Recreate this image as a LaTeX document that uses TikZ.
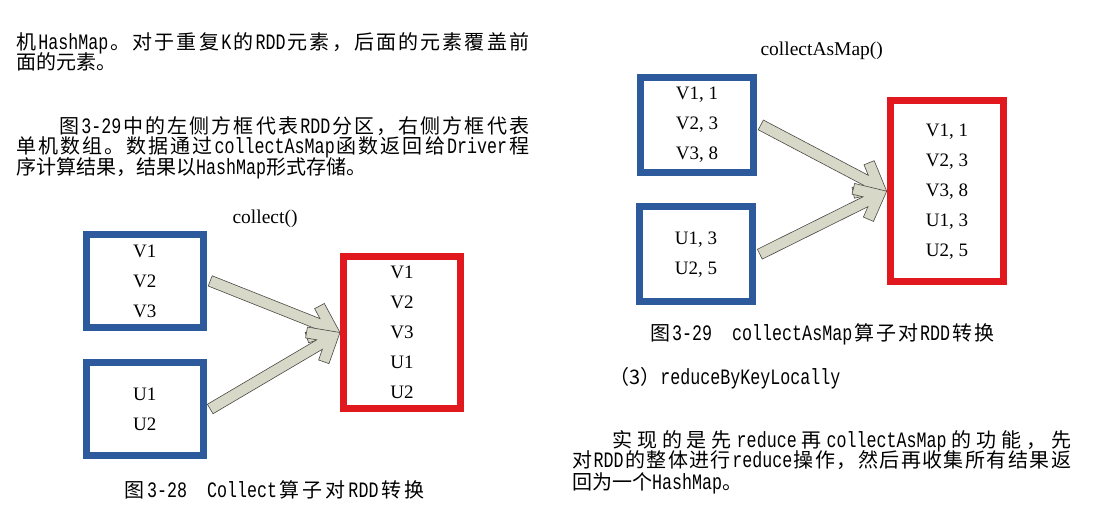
\documentclass[tikz,border=0pt]{standalone}
\usepackage{fontspec}
\setmainfont{Liberation Serif}
\newfontfamily\zhfont{Noto Sans CJK SC}
\newfontfamily\hwfont[FakeStretch=0.758]{Liberation Mono}
\usetikzlibrary{calc}

% stretchable gaps between Chinese characters, for justified lines
\newXeTeXintercharclass\zhclass
\newcount\zhcode
\zhcode="4E00
\loop
  \XeTeXcharclass\zhcode=\zhclass
  \advance\zhcode by 1
\ifnum\zhcode<"9FA6 \repeat
\XeTeXcharclass"3002=\zhclass
\XeTeXcharclass"FF0C=\zhclass
\XeTeXcharclass"FF08=\zhclass
\XeTeXcharclass"FF09=\zhclass
\XeTeXinterchartoks\zhclass\zhclass={\hskip0pt plus 1pt\relax}
\XeTeXinterchartokenstate=1

\definecolor{partblue}{HTML}{2C5A9C}
\definecolor{mapred}{HTML}{E1191F}
\definecolor{arrowfill}{HTML}{D8D8C8}
\definecolor{arrowline}{HTML}{4A4A44}

\newcommand\hw[1]{\hskip0pt plus 1pt{\hwfont\fontsize{22}{20}\selectfont #1}\hskip0pt plus 1pt\relax}
\newcommand\zhline[2]{\makebox[#1][s]{#2}}
% thick arrow with open head, from one anchor to another
\newcommand\fatarrow[2]{%
  \filldraw[fatarrow] let \p1=([xshift=3.5pt]#1), \p2=(#2),
    \n1={atan2(\y2-\y1,\x2-\x1)}, \n2={veclen(\x2-\x1,\y2-\y1)} in
    [shift={(\p2)}, rotate=\n1]
    (0,0) -- (-25.3,21.2) -- (-32.4,12.8) -- (-23.7,5.5) -- (-\n2,5.5)
    -- (-\n2,-5.5) -- (-23.7,-5.5) -- (-32.4,-12.8) -- (-25.3,-21.2) -- cycle;}

\tikzset{
  bodytext/.style={anchor=base west, inner sep=0pt, font=\zhfont\fontsize{20}{20}\selectfont},
  fnlabel/.style={anchor=base, inner sep=0pt, font=\fontsize{19.5}{20}\selectfont},
  partbox/.style={draw=partblue, line width=7pt, inner sep=0pt, align=center, font=\fontsize{19}{30}\selectfont},
  mapbox/.style={partbox, draw=mapred},
  fatarrow/.style={fill=arrowfill, draw=arrowline, line width=0.6pt, line join=miter}
}

\begin{document}
\begin{tikzpicture}[x=1pt,y=-1pt]
\useasboundingbox (0,0) rectangle (1102,517);
\fill[white] (0,0) rectangle (1102,517);

% text, left column
\node[bodytext] (p1a) at (16,49.3) {\zhline{513pt}{机\hw{HashMap}。对于重复\hw{K}的\hw{RDD}元素，后面的元素覆盖前}};
\node[bodytext] (p1b) at (16,69.3) {面的元素。};
\node[bodytext] (p2a) at (59,133.6) {\zhline{470pt}{图\hw{3-29}中的左侧方框代表\hw{RDD}分区，右侧方框代表}};
\node[bodytext] (p2b) at (16,153.6) {\zhline{513pt}{单机数组。数据通过\hw{collectAsMap}函数返回给\hw{Driver}程}};
\node[bodytext] (p2c) at (16,174.3) {序计算结果，结果以\hw{HashMap}形式存储。};

% collect()
\node[fnlabel] (f1) at (265,223) {collect()};
\node[partbox, minimum width=117pt, minimum height=93pt] (v1) at (144.7,280.9) {V1\\V2\\V3};
\node[partbox, minimum width=117pt, minimum height=93pt] (u1) at (144.7,409) {U1\\U2};
\node[mapbox, minimum width=117pt, minimum height=152pt] (r1) at (402,332.5) {V1\\V2\\V3\\U1\\U2};
\fatarrow{v1.east}{r1.west}
\fatarrow{u1.east}{r1.west}
\node[bodytext] (c1) at (124,497.6) {\zhline{300pt}{图\hw{3-28\hspace*{20pt}Collect}算子对\hw{RDD}转换}};

% collectAsMap()
\node[fnlabel] (f2) at (821.7,55.6) {collectAsMap()};
\node[partbox, minimum width=113.6pt, minimum height=94.7pt] (v2) at (697,124.9) {V1, 1\\V2, 3\\V3, 8};
\node[partbox, minimum width=113.6pt, minimum height=94.7pt] (u2) at (696,254.2) {U1, 3\\U2, 5};
\node[mapbox, minimum width=113.6pt, minimum height=180.7pt] (r2) at (947,191.2) {V1, 1\\V2, 3\\V3, 8\\U1, 3\\U2, 5};
\fatarrow{v2.east}{r2.west}
\fatarrow{u2.east}{r2.west}
\node[bodytext] (c2) at (650,340.6) {\zhline{344pt}{图\hw{3-29\hspace*{20pt}collectAsMap}算子对\hw{RDD}转换}};

% text, right column
\node[bodytext] (h3) at (609,384.3) {（3）\hw{reduceByKeyLocally}};
\node[bodytext] (p3a) at (612,447.6) {\zhline{459pt}{实现的是先\hw{reduce}再\hw{collectAsMap}的功能，先}};
\node[bodytext] (p3b) at (572,467.6) {\zhline{499pt}{对\hw{RDD}的整体进行\hw{reduce}操作，然后再收集所有结果返}};
\node[bodytext] (p3c) at (572,489.3) {回为一个\hw{HashMap}。};
\end{tikzpicture}
\end{document}
